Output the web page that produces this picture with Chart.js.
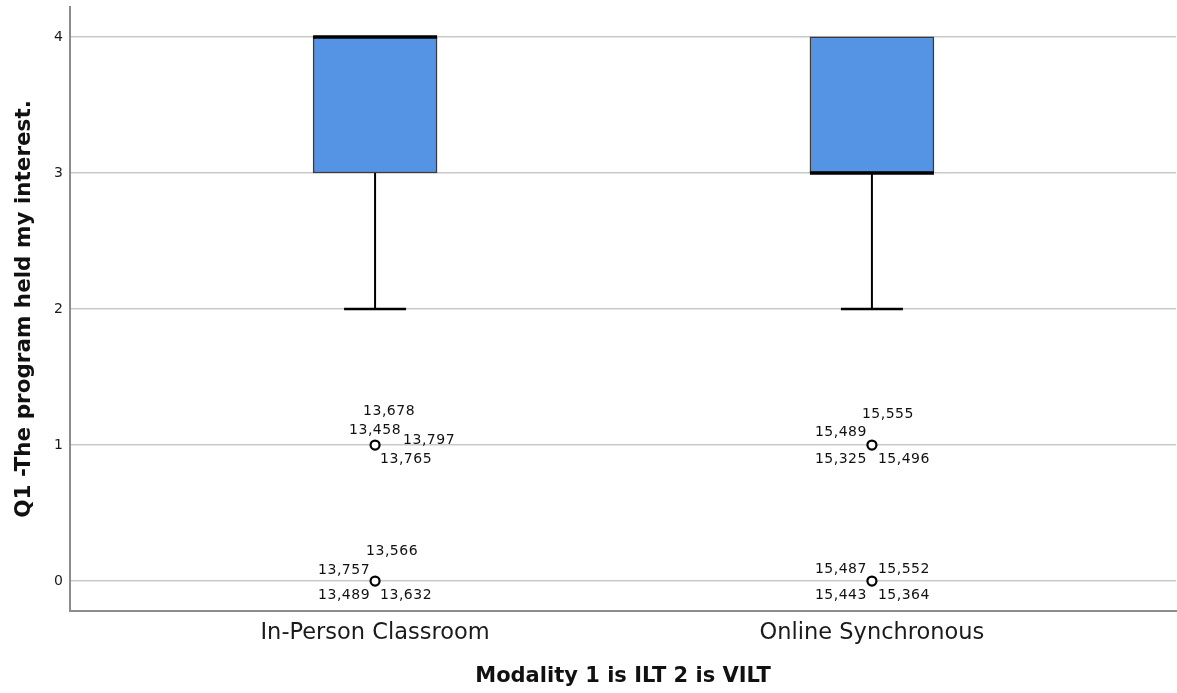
<!DOCTYPE html>
<html>
<head>
<meta charset="utf-8">
<script src="https://cdn.jsdelivr.net/npm/chart.js@4.4.1/dist/chart.umd.min.js"></script>
<style>
  html, body { margin: 0; padding: 0; background: #ffffff; }
  #wrap { width: 1177px; height: 693px; }
</style>
</head>
<body>
<div id="wrap"><canvas id="c" width="1177" height="693"></canvas></div>
<script>
// ---------------- data ----------------
const categories = ['In-Person Classroom', 'Online Synchronous'];
const q1 = [3, 3];
const median = [4, 3];
const q3 = [4, 4];
const whiskerLow = [2, 2];
const whiskerHigh = [4, 4];
const yTicks = [0, 1, 2, 3, 4];
// outliers: value and case ids per category
const outlierValues1 = [1, 0];
const outlierIds1_v1 = ['13,678', '13,458', '13,797', '13,765'];
const outlierIds1_v0 = ['13,566', '13,757', '13,489', '13,632'];
const outlierValues2 = [1, 0];
const outlierIds2_v1 = ['15,555', '15,489', '15,325', '15,496'];
const outlierIds2_v0 = ['15,487', '15,552', '15,443', '15,364'];
const xTitle = 'Modality 1 is ILT 2 is VILT';
const yTitle = 'Q1 -The program held my interest.';

// ---------------- layout / style (pixels) ----------------
const labelOffsets = {
  '13,678': [14, -34], '13,458': [0, -15], '13,797': [54, -5], '13,765': [31, 14],
  '13,566': [17, -30], '13,757': [-31, -11], '13,489': [-31, 14], '13,632': [31, 14],
  '15,555': [16, -31], '15,489': [-31, -13], '15,325': [-31, 14], '15,496': [32, 14],
  '15,487': [-31, -12], '15,552': [32, -12], '15,443': [-31, 14], '15,364': [32, 14]
};
const BOX_W = 124;
const CAP_W = 62;

const outlierGroups = [
  { cat: 1, value: outlierValues1[0], ids: outlierIds1_v1 },
  { cat: 1, value: outlierValues1[1], ids: outlierIds1_v0 },
  { cat: 2, value: outlierValues2[0], ids: outlierIds2_v1 },
  { cat: 2, value: outlierValues2[1], ids: outlierIds2_v0 }
];

const boxPlugin = {
  id: 'boxParts',
  beforeDatasetsDraw(chart) {
    const { ctx, scales: { x, y } } = chart;
    ctx.save();
    ctx.strokeStyle = '#000';
    categories.forEach((c, i) => {
      const cx = x.getPixelForValue(i + 1);
      ctx.lineWidth = 2;
      ctx.beginPath();
      ctx.moveTo(cx, y.getPixelForValue(q1[i]));
      ctx.lineTo(cx, y.getPixelForValue(whiskerLow[i]));
      ctx.stroke();
      ctx.lineWidth = 2.5;
      ctx.beginPath();
      ctx.moveTo(cx - CAP_W / 2, y.getPixelForValue(whiskerLow[i]));
      ctx.lineTo(cx + CAP_W / 2, y.getPixelForValue(whiskerLow[i]));
      ctx.stroke();
      if (whiskerHigh[i] !== q3[i]) {
        ctx.lineWidth = 2;
        ctx.beginPath();
        ctx.moveTo(cx, y.getPixelForValue(q3[i]));
        ctx.lineTo(cx, y.getPixelForValue(whiskerHigh[i]));
        ctx.stroke();
        ctx.lineWidth = 2.5;
        ctx.beginPath();
        ctx.moveTo(cx - CAP_W / 2, y.getPixelForValue(whiskerHigh[i]));
        ctx.lineTo(cx + CAP_W / 2, y.getPixelForValue(whiskerHigh[i]));
        ctx.stroke();
      }
    });
    ctx.restore();
  },
  afterDatasetsDraw(chart) {
    const { ctx, scales: { x, y } } = chart;
    ctx.save();
    ctx.strokeStyle = '#000';
    ctx.lineWidth = 3.5;
    categories.forEach((c, i) => {
      const cx = x.getPixelForValue(i + 1);
      const my = y.getPixelForValue(median[i]);
      ctx.beginPath();
      ctx.moveTo(cx - BOX_W / 2, my);
      ctx.lineTo(cx + BOX_W / 2, my);
      ctx.stroke();
    });
    ctx.fillStyle = '#111';
    ctx.font = '14px "DejaVu Sans"';
    try { ctx.letterSpacing = '0.5px'; } catch (e) {}
    ctx.textAlign = 'center';
    ctx.textBaseline = 'middle';
    outlierGroups.forEach(g => {
      const px = x.getPixelForValue(g.cat);
      const py = y.getPixelForValue(g.value);
      g.ids.forEach(id => {
        const off = labelOffsets[id];
        ctx.fillText(id, px + off[0], py + off[1]);
      });
    });
    ctx.restore();
  }
};

const outlierPoints = [];
outlierGroups.forEach(g => outlierPoints.push({ x: g.cat, y: g.value }));

function zeroPad(s) { s.paddingTop = 0; s.paddingBottom = 0; s.paddingLeft = 0; s.paddingRight = 0; }

new Chart(document.getElementById('c'), {
  type: 'bar',
  data: {
    datasets: [
      {
        type: 'bar',
        data: categories.map((c, i) => ({ x: i + 1, y: [q1[i], q3[i]] })),
        backgroundColor: '#5594e4',
        borderColor: '#3b3b3b',
        borderWidth: 1.5,
        borderSkipped: false,
        barThickness: BOX_W,
        order: 2
      },
      {
        type: 'line',
        data: outlierPoints,
        showLine: false,
        pointStyle: 'circle',
        pointRadius: 4.5,
        pointBorderWidth: 2.2,
        pointBorderColor: '#000',
        pointBackgroundColor: '#fff',
        order: 1
      }
    ]
  },
  options: {
    responsive: false,
    animation: false,
    devicePixelRatio: 1,
    layout: { autoPadding: false, padding: { top: 7, right: 1, left: 0, bottom: 0 } },
    plugins: { legend: { display: false }, tooltip: { enabled: false } },
    scales: {
      x: {
        type: 'linear',
        offset: false,
        bounds: 'data',
        min: 0.386,
        max: 2.612,
        afterBuildTicks: s => { s.ticks = categories.map((c, i) => ({ value: i + 1 })); },
        afterFit: s => { s.height = 82; zeroPad(s); },
        grid: { display: false, drawTicks: false, offset: false },
        border: { display: true, color: '#8c8c8c', width: 2 },
        ticks: {
          padding: 9,
          color: '#1a1a1a',
          font: { family: '"DejaVu Sans"', size: 22.5 },
          maxRotation: 0,
          autoSkip: false,
          callback: v => categories[v - 1]
        },
        title: {
          display: true,
          text: xTitle,
          color: '#111',
          font: { family: '"DejaVu Sans"', size: 21, weight: 'bold' },
          padding: { top: 0, bottom: 4 }
        }
      },
      y: {
        min: -0.22,
        max: 4.22,
        afterBuildTicks: s => { s.ticks = yTicks.map(v => ({ value: v })); },
        afterFit: s => { s.width = 70; zeroPad(s); },
        grid: { color: '#c8c8c8', lineWidth: 1.5, drawTicks: false },
        border: { display: true, color: '#8c8c8c', width: 2 },
        ticks: {
          padding: 7,
          color: '#1a1a1a',
          font: { family: '"DejaVu Sans"', size: 14 }
        },
        title: {
          display: true,
          text: yTitle,
          color: '#111',
          font: { family: '"DejaVu Sans"', size: 21.5, weight: 'bold' },
          padding: { top: 12, bottom: 0 }
        }
      }
    }
  },
  plugins: [boxPlugin]
});
</script>
</body>
</html>
